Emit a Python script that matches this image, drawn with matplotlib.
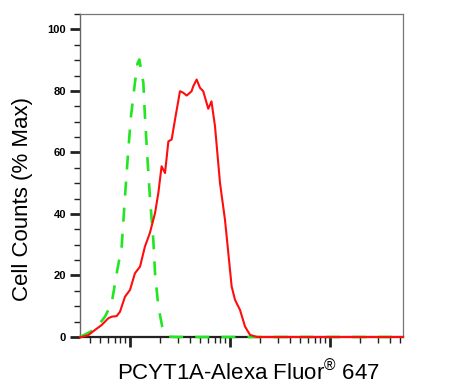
import matplotlib
matplotlib.use('Agg')
import matplotlib.pyplot as plt
from matplotlib.ticker import LogLocator, MultipleLocator, NullFormatter
import numpy as np

plt.rcParams['font.family'] = ['Liberation Sans', 'DejaVu Sans']
plt.rcParams['mathtext.fontset'] = 'custom'
plt.rcParams['mathtext.rm'] = 'Liberation Sans'

#... isotype control (green dashed)
ctrl_x = [31.6, 45.0, 56.2, 65.6, 73.6, 82.6, 89.1, 96.2, 102.3, 112, 119, 124,
          136, 141, 149, 158, 171, 178, 192, 210, 242, 300, 1000, 10000, 53700]
ctrl_y = [0.0, 2.5, 6.6, 11.0, 20.7, 29.4, 45.7, 60.9, 71.8, 82.6, 89.0, 90.2,
          82.6, 71.8, 58.7, 45.7, 31.6, 20.7, 9.9, 3.4, 0.1, 0.0, 0.0, 0.0, 0.0]

#... PCYT1A stained sample (red)
samp_x = [31.6, 32.9, 38.3, 44.7, 52.1, 60.7, 65.6, 73.6, 79.4, 89.1, 100, 112,
          126, 141, 158, 178, 192, 207, 224, 242, 261, 282, 316, 341, 369,
          413, 429, 464, 501, 540, 606, 653, 708, 794, 891, 962, 1039, 1122,
          1259, 1413, 1585, 1858, 5000, 53700]
samp_y = [0.0, 0.0, 0.6, 2.3, 3.9, 6.1, 6.6, 6.8, 8.2, 13.1, 15.3, 20.7,
          22.9, 29.4, 33.8, 40.3, 46.8, 55.5, 53.3, 63.6, 64.2, 70.7, 79.9, 79.4, 78.5,
          79.9, 81.5, 83.7, 81.0, 79.9, 74.2, 76.6, 68.5, 50.1, 38.1, 27.3, 16.4, 12.1,
          8.8, 3.4, 0.7, 0.0, 0.0, 0.0]

fig = plt.figure(figsize=(4.59, 3.92), dpi=100)
ax = fig.add_axes([80/459, 55/392, 323/459, 323/392])

ax.plot(ctrl_x, ctrl_y, color='#22e622', lw=1.9, ls=(0, (5.3, 4.6)),
        zorder=3, clip_on=False)
ax.plot(samp_x, samp_y, color='#ff0d0d', lw=1.5, zorder=4, clip_on=False)

ax.set_xscale('log')
ax.set_xlim(10**1.5, 10**4.73)
ax.set_ylim(0, 105)

ax.xaxis.set_major_locator(LogLocator(base=10, numticks=10))
ax.xaxis.set_minor_locator(LogLocator(base=10, subs=np.arange(2, 10), numticks=20))
ax.xaxis.set_major_formatter(NullFormatter())
ax.xaxis.set_minor_formatter(NullFormatter())
ax.yaxis.set_major_locator(MultipleLocator(20))
ax.yaxis.set_minor_locator(MultipleLocator(5))

ax.tick_params(axis='both', which='major', length=7, width=2, color='#222222')
ax.tick_params(axis='both', which='minor', length=4, width=1, color='#222222')
ax.tick_params(axis='y', which='major', labelsize=8, pad=3)
for lab in ax.get_yticklabels():
    lab.set_fontweight('bold')

for s in ['top', 'right']:
    ax.spines[s].set_color('#777777')
    ax.spines[s].set_linewidth(0.9)
ax.spines['left'].set_color('#666666')
ax.spines['left'].set_linewidth(1.0)
ax.spines['bottom'].set_color('#222222')
ax.spines['bottom'].set_linewidth(1.6)

fig.text(23/459, 1 - 199/392, 'Cell Counts (% Max)', rotation=90,
         ha='center', va='center', fontsize=16)
fig.text(248/459, 12/392, 'PCYT1A-Alexa Fluor$^{®}$ 647',
         ha='center', va='baseline', fontsize=16)

fig.savefig('out.png', dpi=100)
